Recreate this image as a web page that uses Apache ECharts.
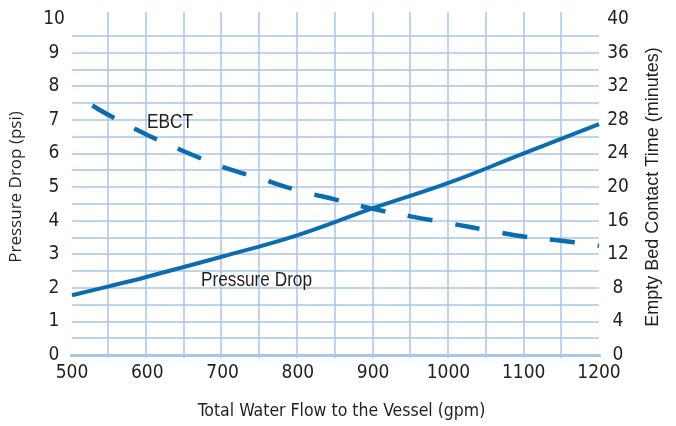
<!DOCTYPE html>
<html><head><meta charset="utf-8">
<script src="https://cdn.jsdelivr.net/npm/echarts@6/dist/echarts.min.js"></script>
<style>html,body{margin:0;padding:0;background:#fff}#c{width:676px;height:426px}</style>
</head><body><div id="c"></div>
<script>
const flowPressure = [500, 550, 600, 700, 800, 900, 1000, 1100, 1200];
const pressureDrop = [1.78, 2.05, 2.33, 2.93, 3.57, 4.37, 5.12, 6.0, 6.87];
const flowEbct = [527, 550, 600, 650, 700, 750, 800, 850, 900, 950, 1000, 1050, 1100, 1150, 1200];
const ebct = [29.7, 28.5, 26.2, 24.2, 22.4, 21.0, 19.6, 18.5, 17.4, 16.5, 15.7, 14.9, 14.1, 13.6, 13.0];
const xTicks = [500, 600, 700, 800, 900, 1000, 1100, 1200];
const leftTicks = [0, 1, 2, 3, 4, 5, 6, 7, 8, 9, 10];
const rightTicks = [0, 4, 8, 12, 16, 20, 24, 28, 32, 36, 40];

const COND = '"DejaVu Sans Condensed", sans-serif';
const TXT = '#231f20';
const BLUE = '#0b6cb0';
const GRIDC = '#a9c5e7';

const chart = echarts.init(document.getElementById('c'), null, {renderer: 'canvas'});
chart.setOption({
  animation: false,
  grid: [
    {left: 70, right: 77, top: 19, bottom: 71},
    {left: 70, right: 77, top: 12, bottom: 68}
  ],
  xAxis: [
    {type: 'value', gridIndex: 0, min: 500, max: 1200, interval: 50, position: 'bottom',
     axisLine: {show: true, lineStyle: {color: BLUE, width: 3}},
     axisTick: {show: false}, splitLine: {show: false},
     axisLabel: {margin: 9, color: TXT, fontFamily: COND, fontSize: 19,
       formatter: v => xTicks.includes(v) ? String(v) : ''},
     name: 'Total Water Flow to the Vessel (gpm)', nameLocation: 'middle', nameGap: 47,
     nameTextStyle: {color: TXT, fontFamily: COND, fontSize: 17.5, padding: [0, 0, 0, 12]}},
    {type: 'value', gridIndex: 0, min: 500, max: 1200, interval: 50, position: 'top',
     axisLine: {show: true, lineStyle: {color: GRIDC, width: 3}},
     axisTick: {show: false}, splitLine: {show: false}, axisLabel: {show: false}},
    {type: 'value', gridIndex: 1, min: 500, max: 1200, interval: 50, z: 0,
     axisLine: {show: false}, axisTick: {show: false}, axisLabel: {show: false},
     splitLine: {show: true, showMinLine: false, showMaxLine: false, lineStyle: {color: GRIDC, width: 1.5}}}
  ],
  yAxis: [
    {type: 'value', gridIndex: 0, min: 0, max: 10, interval: 0.5, position: 'left',
     axisLine: {show: false}, axisTick: {show: false},
     splitLine: {show: true, showMinLine: false, showMaxLine: false, lineStyle: {color: GRIDC, width: 1.5}},
     axisLabel: {margin: 18, align: 'center', color: TXT, fontFamily: COND, fontSize: 19,
       formatter: v => leftTicks.includes(v) ? String(v) : ''},
     name: 'Pressure Drop (psi)', nameLocation: 'middle', nameGap: 47, nameRotate: 90,
     nameTextStyle: {color: TXT, fontFamily: '"Open Sans", sans-serif', fontSize: 17}},
    {type: 'value', gridIndex: 0, min: 0, max: 40, interval: 2, position: 'right',
     axisLine: {show: false}, axisTick: {show: false}, splitLine: {show: false},
     axisLabel: {margin: 19, align: 'center', color: TXT, fontFamily: COND, fontSize: 19,
       formatter: v => rightTicks.includes(v) ? String(v) : ''},
     name: 'Empty Bed Contact Time (minutes)', nameLocation: 'middle', nameGap: 45, nameRotate: 90,
     nameTextStyle: {color: TXT, fontFamily: '"Liberation Sans", sans-serif', fontSize: 18}},
    {type: 'value', gridIndex: 1, min: 0, max: 10, show: false, splitLine: {show: false}}
  ],
  series: [
    {type: 'line', name: 'Pressure Drop', xAxisIndex: 0, yAxisIndex: 0, smooth: 0.4,
     showSymbol: false, data: flowPressure.map((x, i) => [x, pressureDrop[i]]),
     lineStyle: {color: BLUE, width: 4}, z: 5},
    {type: 'line', name: 'EBCT', xAxisIndex: 0, yAxisIndex: 1, smooth: 0.4,
     showSymbol: false, data: flowEbct.map((x, i) => [x, ebct[i]]),
     lineStyle: {color: BLUE, width: 4.5, type: [25, 23]}, z: 5}
  ],
  graphic: [
    {type: 'text', x: 147, y: 112, scaleX: 0.82, z: 10,
     style: {text: 'EBCT', fill: TXT, font: '21px "Liberation Sans"', verticalAlign: 'top'}},
    {type: 'text', x: 201, y: 270, scaleX: 0.82, z: 10,
     style: {text: 'Pressure Drop', fill: TXT, font: '21px "Liberation Sans"', verticalAlign: 'top'}}
  ]
});
</script></body></html>
